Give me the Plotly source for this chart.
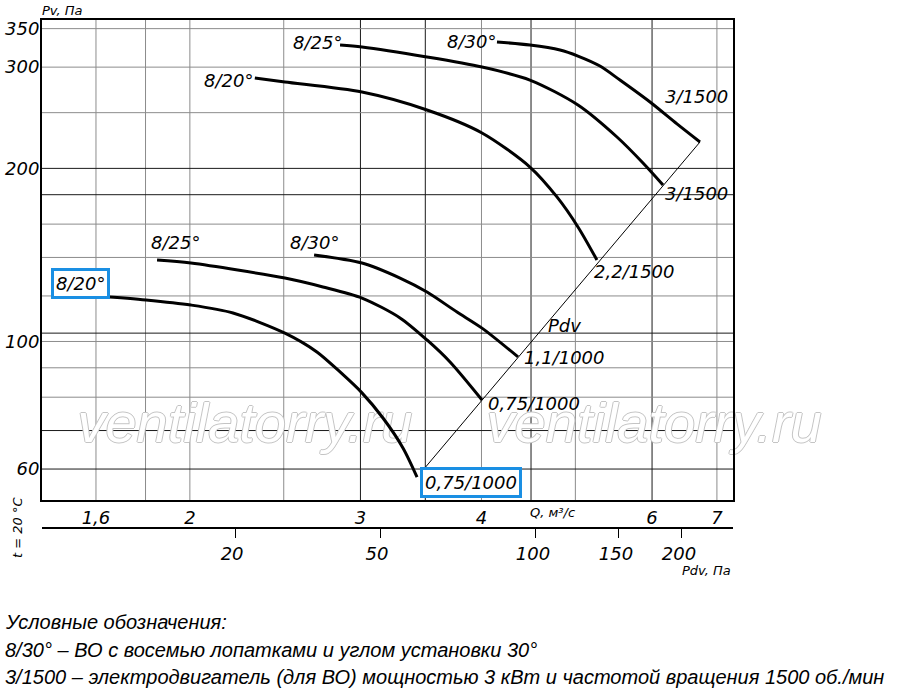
import math
import plotly.graph_objects as go

# ---------------- data (Q in m3/s, Pv in Pa) ----------------
# 1000 rpm group
Q_820_1000 = [1.604, 1.802, 2.005, 2.216, 2.507, 2.705, 2.858, 3.011, 3.165, 3.319, 3.432]
P_820_1000 = [120.0, 118.1, 115.7, 112.1, 103.4, 95.9, 88.5, 81.4, 73.6, 65.3, 58.1]

Q_825_1000 = [1.850, 2.005, 2.507, 2.744, 3.011, 3.296, 3.514, 3.712, 4.005]
P_825_1000 = [138.6, 136.9, 128.9, 124.4, 119.0, 109.9, 100.6, 92.1, 79.1]

Q_830_1000 = [2.687, 3.011, 3.296, 3.514, 3.774, 4.005, 4.363]
P_830_1000 = [141.4, 136.9, 128.9, 121.9, 112.5, 105.5, 94.0]

# 1500 rpm group
Q_820_1500 = [2.334, 2.507, 3.011, 3.514, 4.005, 4.488, 4.786, 5.031, 5.263]
P_820_1500 = [287.2, 282.6, 271.5, 252.7, 230.5, 201.1, 178.4, 158.2, 138.6]

Q_825_1500 = [2.858, 3.011, 3.514, 4.005, 4.488, 5.031, 5.520, 5.872, 6.158]
P_825_1500 = [327.8, 325.2, 312.4, 300.1, 284.9, 257.8, 226.8, 204.4, 187.2]

Q_830_1500 = [4.150, 4.488, 4.821, 5.031, 5.301, 5.559, 5.971, 6.366, 6.724]
P_830_1500 = [331.8, 327.8, 321.3, 313.6, 301.3, 284.9, 260.9, 239.0, 222.3]

# dynamic pressure line (Pdv ~ Q^2)
Q_PDV = [3.497, 6.724]
P_PDV = [60.3, 222.3]

# axes
Q_TICKS = [1.6, 2, 3, 4, 6, 7]
Q_TICK_TEXT = ["1,6", "2", "3", "4", "6", "7"]
P_TICKS = [60, 100, 200, 300, 350]
P_TICK_TEXT = ["60", "100", "200", "300", "350"]
PDV_TICK_Q = [2.227, 3.143, 4.553, 5.546, 6.442]   # where the Pdv ticks sit on the Q scale
PDV_TICK_TEXT = ["20", "50", "100", "150", "200"]

GRID_Q_DARK = [3, 3.5, 4.5, 6]
GRID_Q_LIGHT = [1.6, 1.8, 2, 2.5, 4, 5, 7]
GRID_P_DARK = [60, 70, 103.4, 180, 200]
GRID_P_LIGHT = [80, 90, 100, 120, 140, 160, 250, 300, 350]

# curve labels: (text, Q, P, boxed)
CURVE_LABELS = [
    ("8/20°", 2.190, 284.9, False),
    ("8/25°", 2.706, 331.7, False),
    ("8/30°", 3.902, 333.0, False),
    ("3/1500", 6.676, 266.2, False),
    ("3/1500", 6.676, 181.2, False),
    ("2,2/1500", 5.748, 132.1, False),
    ("Pdv", 4.878, 106.4, False),
    ("1,1/1000", 4.878, 93.6, False),
    ("0,75/1000", 4.531, 77.9, False),
    ("0,75/1000", 3.902, 56.9, True),
    ("8/20°", 1.544, 125.9, True),
    ("8/25°", 1.931, 148.9, False),
    ("8/30°", 2.687, 148.9, False),
]

# watermark text positions (Q, P)
WM_Q = [2.28, 6.03]
WM_P = [70.7, 70.7]
WM_TEXT = ["ventilatorry.ru", "ventilatorry.ru"]

LEGEND_LINES = [
    "Условные обозначения:",
    "8/30° – ВО с восемью лопатками и углом установки 30°",
    "3/1500 – электродвигатель (для ВО) мощностью 3 кВт и частотой вращения 1500 об./мин",
]

# ---------------- figure ----------------
W, H = 900, 693
PL, PR, PT, PB = 42, 733, 20, 528   # plot-area box in pixels (PB includes Pdv scale)
ML, MT = PL, PT
MR, MB = W - PR, H - PB
PLOT_W, PLOT_H = PR - PL, PB - PT
Y_DOM0 = 28 / PLOT_H
Q_RANGE = [0.1484, 0.8617]
P_RANGE = [1.7243, 2.5591]

FONT = "DejaVu Sans"
NARROW = "Liberation Sans Narrow, Liberation Sans, Arial Narrow, sans-serif"

fig = go.Figure()

# watermark (below the curves)
fig.add_trace(go.Scatter(x=WM_Q, y=WM_P, mode="text", text=WM_TEXT, cliponaxis=False,
                         textposition="middle center",
                         textfont=dict(family="Liberation Sans", size=56, color="white", style="italic",
                                       shadow="1px 0 0 #c4c4c4, -1px 0 0 #c4c4c4, 0 1px 0 #c4c4c4, 0 -1px 0 #c4c4c4"),
                         hoverinfo="skip", showlegend=False))

curves = [
    (Q_820_1000, P_820_1000), (Q_825_1000, P_825_1000), (Q_830_1000, P_830_1000),
    (Q_820_1500, P_820_1500), (Q_825_1500, P_825_1500), (Q_830_1500, P_830_1500),
]
for q, p in curves:
    fig.add_trace(go.Scatter(x=q, y=p, mode="lines",
                             line=dict(color="black", width=3, shape="spline", smoothing=0.8),
                             hoverinfo="skip", showlegend=False))

fig.add_trace(go.Scatter(x=Q_PDV, y=P_PDV, mode="lines", xaxis="x2",
                         line=dict(color="black", width=1),
                         hoverinfo="skip", showlegend=False))

# grid as shapes
shapes = []
for v in GRID_Q_LIGHT + GRID_Q_DARK:
    col = "#8c8c8c" if v in GRID_Q_LIGHT else "#1a1a1a"
    shapes.append(dict(type="line", xref="x", yref="y domain", x0=v, x1=v, y0=0, y1=1,
                       line=dict(color=col, width=1), layer="below"))
for v in GRID_P_LIGHT + GRID_P_DARK:
    col = "#8c8c8c" if v in GRID_P_LIGHT else "#1a1a1a"
    shapes.append(dict(type="line", xref="x domain", yref="y", x0=0, x1=1, y0=v, y1=v,
                       line=dict(color=col, width=1), layer="below"))

ann = []


def px_x(px):
    return (px - PL) / PLOT_W


def px_y(py):
    return (PB - py) / PLOT_H


for text, q, p, boxed in CURVE_LABELS:
    a = dict(text=text, x=math.log10(q), y=math.log10(p), xref="x", yref="y", showarrow=False,
             xanchor="center", yanchor="middle",
             font=dict(family=FONT, size=18, color="black", style="italic"))
    if boxed:
        a.update(bordercolor="#1a8fe3", borderwidth=3, borderpad=2, bgcolor="white")
    ann.append(a)

small = dict(family=FONT, size=13, color="black", style="italic")
ann += [
    dict(text="Pv, Па", x=px_x(62), y=px_y(10), xref="paper", yref="paper", showarrow=False,
         xanchor="center", yanchor="middle", font=small),
    dict(text="Q, м³/с", x=px_x(552), y=px_y(512), xref="paper", yref="paper", showarrow=False,
         xanchor="center", yanchor="middle", font=small),
    dict(text="Pdv, Па", x=px_x(706), y=px_y(570), xref="paper", yref="paper", showarrow=False,
         xanchor="center", yanchor="middle", font=small),
    dict(text="t = 20 °C", x=px_x(17), y=px_y(528), xref="paper", yref="paper", showarrow=False,
         xanchor="center", yanchor="middle", textangle=-90, font=small),
]
for i, line in enumerate(LEGEND_LINES):
    ann.append(dict(text=line, x=px_x(3), y=px_y(622 + 27.5 * i), xref="paper", yref="paper",
                    xanchor="left", yanchor="middle", showarrow=False,
                    font=dict(family=NARROW, size=20, color="black", style="italic")))

tickfont = dict(family=FONT, size=18, color="black", style="italic")
fig.update_layout(
    width=W, height=H, margin=dict(l=ML, r=MR, t=MT, b=MB, autoexpand=False),
    paper_bgcolor="white", plot_bgcolor="white",
    showlegend=False,
    xaxis=dict(type="log", range=Q_RANGE, anchor="y", tickvals=Q_TICKS, ticktext=Q_TICK_TEXT,
               showgrid=False, zeroline=False, showline=True, linecolor="black", linewidth=2, mirror=True,
               ticks="", tickfont=tickfont, automargin=False),
    xaxis2=dict(type="log", range=Q_RANGE, overlaying="x", anchor="free", position=0, side="bottom",
                tickvals=PDV_TICK_Q, ticktext=PDV_TICK_TEXT, showgrid=False, zeroline=False,
                showline=True, linecolor="black", linewidth=2, ticks="outside", ticklen=9, tickwidth=1,
                tickcolor="black", tickfont=tickfont, ticklabelshift=-3, automargin=False),
    yaxis=dict(type="log", range=P_RANGE, domain=[Y_DOM0, 1], tickvals=P_TICKS, ticktext=P_TICK_TEXT,
               showgrid=False, zeroline=False, showline=True, linecolor="black", linewidth=2, mirror=True,
               ticks="", tickfont=tickfont, automargin=False, ticklabelstandoff=-3),
    shapes=shapes, annotations=ann,
)

fig.write_html("out.html", config={"displayModeBar": False},
               post_script="document.body.style.margin='0px';")
